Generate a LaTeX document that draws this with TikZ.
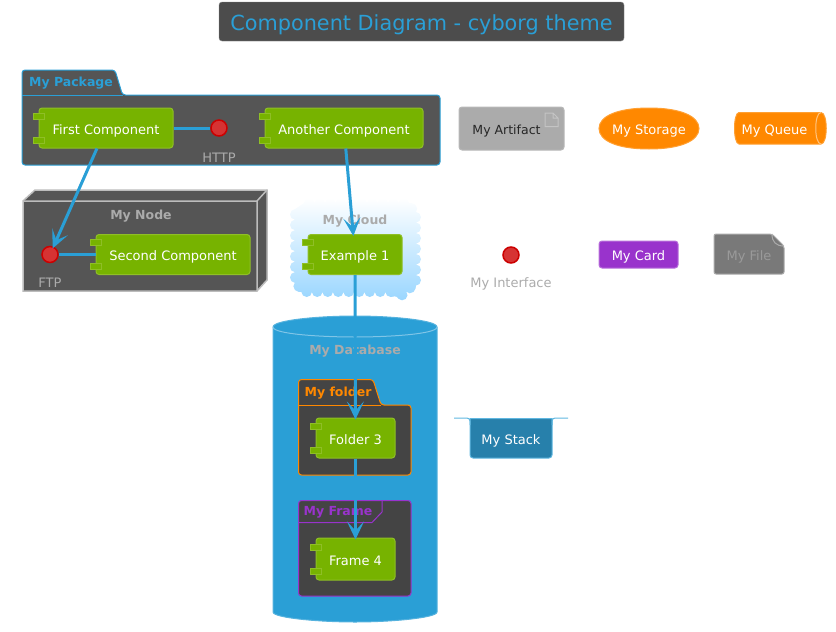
\documentclass[tikz,border=0pt]{standalone}
\usepackage{fontspec}
\setmainfont{DejaVu Sans}
\usepackage{tikz}
\usetikzlibrary{arrows.meta,decorations.pathmorphing}

\definecolor{cyblue}{HTML}{2A9FD6}
\definecolor{cygreen}{HTML}{77B300}
\definecolor{cyport}{HTML}{8FBF26}
\definecolor{cyorange}{HTML}{FF8800}
\definecolor{cypurple}{HTML}{9933CC}
\definecolor{cyred}{HTML}{D63333}
\definecolor{cydark}{HTML}{555555}
\definecolor{cydarker}{HTML}{444444}
\definecolor{cygray}{HTML}{ABABAB}
\definecolor{cysky}{HTML}{99D6FF}
\definecolor{cystack}{HTML}{2780AB}

\tikzset{
  comp/.style={draw=cyport, fill=cygreen, rounded corners=3, line width=1pt, text=white,
    minimum height=40, inner sep=0pt, text height=12, text depth=0, font=\fontsize{13}{15}\selectfont},
  port/.style={draw=cyport, fill=cygreen, line width=1pt},
  iface/.style={circle, draw=red!80!black, fill=cyred, line width=1.5pt, minimum size=16, inner sep=0pt},
  lbl/.style={text=cygray, inner sep=0pt, font=\fontsize{13}{15}\selectfont},
  grouplbl/.style={inner sep=0pt, font=\fontsize{12.5}{14}\selectfont\bfseries},
  flat/.style={rounded corners=3, line width=1pt, inner sep=0pt, text=white, text height=12, text depth=0, font=\fontsize{13}{15}\selectfont},
  link/.style={draw=cyblue, line width=3pt},
  linkto/.style={link, shorten >=-2pt, -{Stealth[inset=9pt,length=18pt,width=17pt]}}
}
\newcommand{\ports}[1]{
  \draw[port] (#1.west) ++(-5,-15) rectangle ++(11,6);
  \draw[port] (#1.west) ++(-5,9) rectangle ++(11,6);
}

\begin{document}
\begin{tikzpicture}[x=1pt,y=-1pt]
  \useasboundingbox (0,0) rectangle (836,632);

  % title
  \node[draw=cydark!70, fill=cydark!90!black, rounded corners=3, minimum width=405, minimum height=39, inner sep=0pt,
    text=cyblue, text height=17, text depth=0, font=\fontsize{20.8}{24}\selectfont] (title) at (421.5,21.5) {Component Diagram - cyborg theme};

  % package
  \draw[draw=cyblue, fill=cydark, line width=1pt, rounded corners=3]
    (22,95) -- (22,70) -- (115,70) -- (122.5,95) -- (440,95) -- (440,165) -- (22,165) -- cycle;
  \draw[cyblue, line width=1pt] (22,95) -- (122.5,95);
  \node[grouplbl, text=cyblue] (packlbl) at (71,83) {My Package};

  % node
  \draw[draw=cygray!80!white, fill=cydark, line width=1.5pt]
    (23,201) -- (35,190) -- (267,190) -- (267,280) -- (257,291) -- (23,291) -- cycle;
  \draw[cygray!80!white, line width=1.5pt] (23,201) -- (257,201) -- (257,291) (257,201) -- (267,190);
  \node[grouplbl, text=cygray] (nodelbl) at (141,216) {My Node};

  % cloud
  \path[decorate, decoration={bumps, segment length=21, amplitude=5}, top color=white, bottom color=cysky]
    (304,203) -- (406,203) -- (416,212) -- (416,283) -- (406,292) -- (304,292) -- (295,283) -- (295,212) -- cycle;
  \node[grouplbl, text=cygray] (cloudlbl) at (355,221.5) {My Cloud};

  % database
  \draw[draw=cyblue!80!white, fill=cyblue, line width=1pt]
    (273,327) .. controls (273,320) and (320,316) .. (355,316) .. controls (390,316) and (437,320) .. (437,327)
    -- (437,612) .. controls (437,618) and (390,622) .. (355,622) .. controls (320,622) and (273,618) .. (273,612) -- cycle;
  \draw[cyblue!60!white, line width=1pt]
    (273,327) .. controls (273,334) and (320,337) .. (355,337) .. controls (390,337) and (437,334) .. (437,327);
  \node[grouplbl, text=cygray] (dblbl) at (355,351.5) {My Database};

  % folder
  \draw[draw=cyorange, fill=cydarker, line width=1pt, rounded corners=3]
    (298.5,405) -- (298.5,379.5) -- (373,379.5) -- (381,405) -- (411,405) -- (411,475) -- (298.5,475) -- cycle;
  \draw[cyorange, line width=1pt] (298.5,405) -- (381,405);
  \node[grouplbl, text=cyorange] (folderlbl) at (338,393) {My folder};

  % frame
  \draw[draw=cypurple, fill=cydarker, line width=1pt, rounded corners=3]
    (298.5,500.5) -- (411,500.5) -- (411,596) -- (298.5,596) -- cycle;
  \draw[cypurple, line width=1pt] (298.5,522.5) -- (372,522.5) -- (382,512) -- (382,500.5);
  \node[grouplbl, text=cypurple] (framelbl) at (338,512) {My Frame};

  % components
  \node[comp, minimum width=134] (first) at (106,128) {First Component};
  \ports{first}
  \node[comp, minimum width=158] (another) at (344,128) {Another Component};
  \ports{another}
  \node[comp, minimum width=154] (second) at (173,254.5) {Second Component};
  \ports{second}
  \node[comp, minimum width=94] (example) at (355,254.5) {Example 1};
  \ports{example}
  \node[comp, minimum width=79] (folderc) at (355.5,438) {Folder 3};
  \ports{folderc}
  \node[comp, minimum width=79, minimum height=42] (framec) at (355.5,559) {Frame 4};
  \ports{framec}

  % interfaces
  \node[iface] (http) at (219,128) {};
  \node[lbl] (httplbl) at (219,157.5) {HTTP};
  \node[iface] (ftp) at (50,254.5) {};
  \node[lbl] (ftplbl) at (50,283) {FTP};
  \node[iface] (myiface) at (511,255) {};
  \node[lbl] (ifacelbl) at (511,284) {My Interface};

  % artifact
  \node[flat, draw=cygray!85!white, fill=cygray, minimum width=105, minimum height=43] (artifact) at (511.5,128.5) {};
  \node[inner sep=0pt, font=\fontsize{12.5}{14}\selectfont, text=black!85] (artifactlbl) at (506.5,131.5) {My Artifact};
  \draw[cygray!70!white, line width=1pt] (545,113) -- (553,113) -- (558,118) -- (558,126.5) -- (545,126.5) -- cycle (553,113) -- (553,118) -- (558,118);

  % storage
  \draw[draw=cyorange!80!white, fill=cyorange, line width=1pt]
    (599,128.5) .. controls (599,116) and (618,108) .. (649,108) .. controls (680,108) and (699,116) .. (699,128.5)
    .. controls (699,141) and (680,149) .. (649,149) .. controls (618,149) and (599,141) .. (599,128.5) -- cycle;
  \node[flat] (storage) at (649,128.5) {My Storage};

  % queue
  \draw[draw=cyorange!80!white, fill=cyorange, line width=1pt]
    (739,112.5) -- (821,112.5) .. controls (828,112.5) and (828,144) .. (821,144) -- (739,144) .. controls (733,144) and (733,112.5) .. (739,112.5) -- cycle;
  \draw[cyorange!50!white, line width=1pt] (821,112.5) .. controls (814,112.5) and (814,144) .. (821,144);
  \node[flat] (queue) at (774.5,128.5) {My Queue};

  % card, file, stack
  \node[flat, draw=cypurple!70!white, fill=cypurple, minimum width=79, minimum height=27] (card) at (638.5,254.5) {My Card};
  \draw[draw=cygray, fill=black!50!white!95!black, line width=1pt, rounded corners=2]
    (714,234) -- (772,234) -- (784,246) -- (784,274) -- (714,274) -- cycle;
  \draw[cygray, line width=1pt] (772,234) .. controls (772,242) and (776,246) .. (784,246);
  \node[flat, text=cygray!90!black] (filelbl) at (749,254.5) {My File};
  \draw[draw=cyblue!75!white, fill=cystack, line width=1pt]
    (470,418.5) [rounded corners=3] -- (470,458) -- (552,458) [sharp corners] -- (552,418.5) -- cycle;
  \draw[cyblue!75!white, line width=1pt, rounded corners=3]
    (454,418) -- (470,418) -- (470,425) (552,425) -- (552,418) -- (568,418);
  \node[flat] (stack) at (511,438) {My Stack};

  % connectors
  \draw[link] (first) -- (http);
  \draw[linkto] (first) -- (ftp);
  \draw[link] (ftp) -- (second);
  \draw[linkto] (another) -- (example);
  \draw[linkto] (example) -- (folderc);
  \draw[linkto] (folderc) -- (framec);
\end{tikzpicture}
\end{document}
